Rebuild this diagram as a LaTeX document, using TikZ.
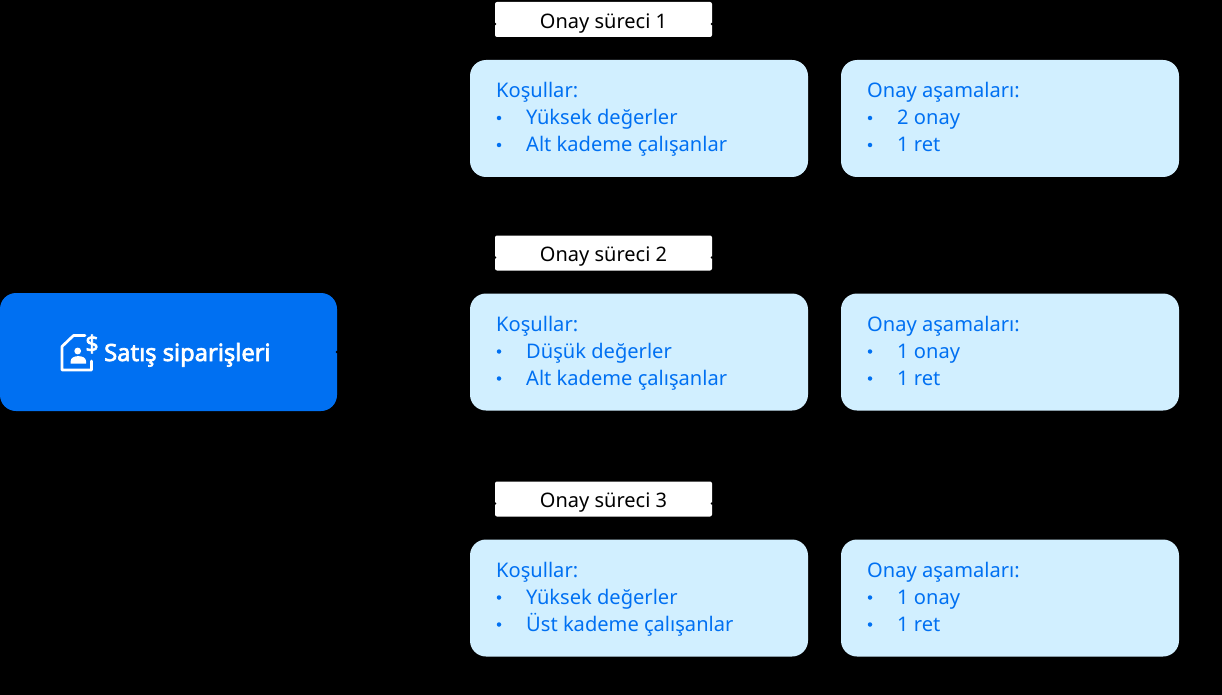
\documentclass[tikz,border=0pt]{standalone}
\usepackage{fontspec}
\setmainfont{Noto Sans}
\newfontfamily\heavyfont{Noto Sans}[FakeBold=2.8]
\definecolor{sapblue}{HTML}{0070F2}
\definecolor{paleblue}{HTML}{D1EFFF}
\tikzset{
  x=1pt,y=-1pt,
  card/.style={fill=paleblue,rounded corners=16pt},
  mainbox/.style={fill=sapblue,rounded corners=16pt},
  tab/.style={fill=white,rounded corners=2pt},
  notch/.style={fill=black},
  tabtext/.style={font=\fontsize{20}{24}\selectfont,text=black,inner sep=0pt},
  cardtext/.style={font=\fontsize{20.1}{24}\selectfont,text=sapblue,inner sep=0pt,anchor=base west},
  maintext/.style={font=\heavyfont\fontsize{23.7}{26}\selectfont,text=white,inner sep=0pt,anchor=base west},
  bul/.style={circle,fill=sapblue,inner sep=0pt,minimum size=4.5pt},
  iconline/.style={draw=white,line width=2.7pt,line join=round,line cap=round},
}
\newcommand{\cardrow}[8]{%
  \fill[tab] (495,#1) rectangle (712,#1+35);
  \fill[notch] (495,#1+22) circle (1.4) (712,#1+22) circle (1.4);
  \node[tabtext] (#2t) at (603.5,#8) {#3};
  \fill[card] (470,#1+58) rectangle (808,#1+175);
  \fill[card] (841,#1+58) rectangle (1179,#1+175);
  \node[cardtext] (#2a) at (496,#1+96) {Koşullar:};
  \node[bul] (#2b1) at (499,#1+116) {};
  \node[cardtext] (#2a1) at (526,#1+123) {#4};
  \node[bul] (#2b2) at (499,#1+143) {};
  \node[cardtext] (#2a2) at (526,#1+150) {#5};
  \node[cardtext] (#2c) at (867,#1+96) {Onay aşamaları:};
  \node[bul] (#2d1) at (870,#1+116) {};
  \node[cardtext] (#2c1) at (897,#1+123) {#6};
  \node[bul] (#2d2) at (870,#1+143) {};
  \node[cardtext] (#2c2) at (897,#1+150) {#7};
}
\begin{document}
\begin{tikzpicture}
\useasboundingbox (0,0) rectangle (1222,695);
\fill[black] (0,0) rectangle (1222,695);
\fill[mainbox] (0,293) rectangle (337,411);
\fill[notch] (337,352) circle (1.4);
% icon
\draw[iconline] (73.5,335.5) -- (85,335.5);
\draw[iconline] (73.5,335.5) -- (62,346.5) -- (62,370) -- (91.5,370) -- (91.5,361);
\fill[white] (77.7,351) circle (3.4);
\fill[white] (70.7,363.5) -- (70.7,361) .. controls (70.7,354.5) and (86,354.5) .. (86,361) -- (86,363.5) -- cycle;
\node[font=\heavyfont\fontsize{23}{24}\selectfont,text=white,inner sep=0pt] (dollar) at (92,344) {\$};
\node[maintext] (main) at (104,361) {Satış siparişleri};
\cardrow{2}{p}{Onay süreci 1}{Yüksek değerler}{Alt kademe çalışanlar}{2 onay}{1 ret}{24}
\cardrow{235.5}{q}{Onay süreci 2}{Düşük değerler}{Alt kademe çalışanlar}{1 onay}{1 ret}{257}
\cardrow{481.5}{r}{Onay süreci 3}{Yüksek değerler}{Üst kademe çalışanlar}{1 onay}{1 ret}{503}
\end{tikzpicture}
\end{document}
